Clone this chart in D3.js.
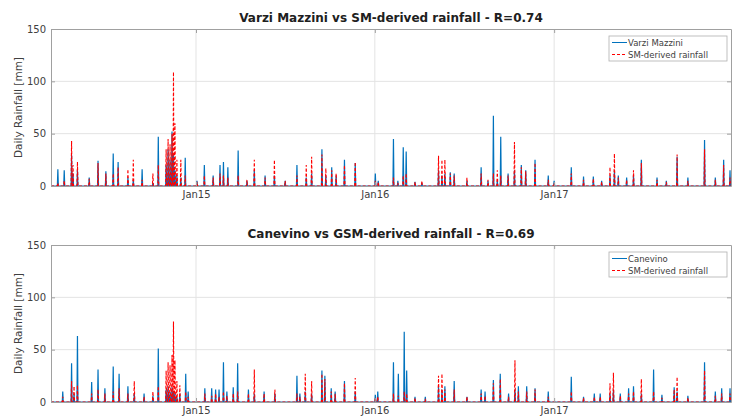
<!DOCTYPE html>
<html lang="en">
<head>
    <meta charset="utf-8">
    <title>Rainfall comparison</title>
    <style>
        body { margin: 0; background: #fff; }
        svg { display: block; font-family: "DejaVu Sans", sans-serif; }
    </style>
</head>
<body>
    <div id="container"></div>

    <script src="https://cdn.jsdelivr.net/npm/d3@7"></script>
    <script>
        // Time span of the record and axis ticks
        const startDate = "2014-03-11";
        const endDate = "2017-12-28";
        const xTickDates = ["2015-01-01", "2016-01-01", "2017-01-01"];
        const xTickLabels = ["Jan15", "Jan16", "Jan17"];
        const yTicks = [0, 50, 100, 150];

        // Rain days (all other days are 0 mm)
        const topDates = [
            "2014-03-25", "2014-04-07", "2014-04-22", "2014-04-25", "2014-05-04", "2014-05-28",
            "2014-06-15", "2014-07-01", "2014-07-16", "2014-07-26", "2014-08-15", "2014-08-26",
            "2014-09-13", "2014-10-05", "2014-10-16", "2014-11-01", "2014-11-05", "2014-11-09",
            "2014-11-13", "2014-11-16", "2014-11-19", "2014-11-23", "2014-12-01", "2014-12-10",
            "2015-01-03", "2015-01-18", "2015-02-05", "2015-02-19", "2015-02-26", "2015-03-07",
            "2015-03-28", "2015-04-15", "2015-04-30", "2015-05-22", "2015-06-10", "2015-07-02",
            "2015-07-26", "2015-08-14", "2015-08-25", "2015-09-15", "2015-09-23", "2015-10-05",
            "2015-10-14", "2015-10-31", "2015-11-22", "2016-01-02", "2016-01-08", "2016-02-08",
            "2016-02-17", "2016-02-28", "2016-03-05", "2016-03-23", "2016-04-06", "2016-05-10",
            "2016-05-17", "2016-05-23", "2016-06-03", "2016-06-11", "2016-07-07", "2016-08-05",
            "2016-08-19", "2016-08-30", "2016-09-07", "2016-09-14", "2016-09-29", "2016-10-12",
            "2016-10-26", "2016-11-04", "2016-11-23", "2016-12-20", "2017-01-01", "2017-02-05",
            "2017-03-02", "2017-03-22", "2017-04-08", "2017-04-25", "2017-05-04", "2017-05-12",
            "2017-05-29", "2017-06-12", "2017-06-28", "2017-07-30", "2017-08-18", "2017-09-09",
            "2017-10-01", "2017-11-04", "2017-11-26", "2017-12-13", "2017-12-26"
        ];
        const varziMazzini = [
            16, 15, 30, 12, 15, 8,
            24, 14, 31, 23, 8, 6,
            16, 3, 47, 20, 35, 25,
            52, 30, 15, 10, 8, 27,
            5, 20, 10, 20, 23, 18,
            34, 5, 15, 10, 10, 5,
            20, 8, 12, 35, 10, 18,
            10, 25, 22, 12, 5, 45,
            5, 37, 33, 4, 3, 15,
            10, 12, 13, 12, 5, 18,
            5, 67, 5, 47, 12, 15,
            20, 15, 25, 10, 5, 18,
            9, 9, 5, 10, 15, 10,
            8, 10, 25, 8, 5, 28,
            8, 44, 8, 25, 15
        ];
        const smTop = [
            3, 5, 43, 20, 23, 7,
            22, 12, 12, 18, 16, 25,
            6, 12, 20, 35, 45, 40,
            50, 109, 60, 25, 25, 10,
            4, 10, 8, 12, 10, 8,
            10, 6, 25, 8, 25, 5,
            10, 20, 28, 30, 17, 15,
            12, 20, 23, 5, 4, 8,
            3, 10, 12, 4, 5, 29,
            25, 25, 12, 10, 8, 12,
            6, 12, 15, 10, 10, 42,
            18, 14, 22, 6, 3, 12,
            6, 7, 4, 18, 31, 8,
            6, 15, 22, 6, 4, 30,
            5, 35, 6, 20, 8
        ];

        // Rain days (all other days are 0 mm)
        const bottomDates = [
            "2014-04-04", "2014-04-22", "2014-04-27", "2014-05-04", "2014-06-02", "2014-06-15",
            "2014-06-29", "2014-07-16", "2014-07-28", "2014-08-15", "2014-08-28", "2014-09-17",
            "2014-10-05", "2014-10-16", "2014-11-01", "2014-11-05", "2014-11-09", "2014-11-13",
            "2014-11-16", "2014-11-19", "2014-11-23", "2014-11-29", "2014-12-11", "2014-12-16",
            "2015-01-19", "2015-02-02", "2015-02-10", "2015-02-17", "2015-02-26", "2015-03-05",
            "2015-03-18", "2015-03-27", "2015-04-18", "2015-04-30", "2015-05-20", "2015-06-11",
            "2015-07-26", "2015-08-01", "2015-08-12", "2015-08-25", "2015-09-15", "2015-09-21",
            "2015-10-04", "2015-10-12", "2015-10-31", "2015-11-22", "2016-01-02", "2016-01-07",
            "2016-02-08", "2016-02-18", "2016-03-01", "2016-03-06", "2016-03-23", "2016-04-13",
            "2016-05-10", "2016-05-17", "2016-05-23", "2016-06-11", "2016-07-07", "2016-08-05",
            "2016-08-13", "2016-08-30", "2016-09-13", "2016-09-30", "2016-10-13", "2016-10-20",
            "2016-11-06", "2016-11-23", "2016-12-20", "2017-02-05", "2017-03-02", "2017-03-24",
            "2017-04-05", "2017-04-25", "2017-05-02", "2017-05-16", "2017-06-02", "2017-06-12",
            "2017-06-28", "2017-07-23", "2017-08-09", "2017-09-03", "2017-09-09", "2017-10-01",
            "2017-11-04", "2017-11-26", "2017-12-09", "2017-12-26"
        ];
        const canevino = [
            10, 37, 8, 63, 19, 31,
            13, 34, 27, 15, 8, 8,
            6, 51, 12, 15, 10, 14,
            10, 8, 5, 8, 27, 10,
            13, 13, 12, 12, 38, 10,
            14, 37, 12, 8, 10, 8,
            25, 8, 10, 8, 30, 25,
            13, 10, 20, 10, 7, 10,
            38, 27, 67, 30, 5, 5,
            15, 12, 15, 20, 5, 12,
            10, 21, 27, 8, 12, 15,
            15, 13, 10, 24, 5, 8,
            8, 8, 12, 8, 13, 15,
            8, 31, 7, 14, 10, 6,
            38, 10, 13, 13
        ];
        const gsmBottom = [
            5, 20, 15, 16, 8, 12,
            8, 10, 13, 8, 20, 5,
            10, 15, 30, 38, 35, 45,
            77, 40, 20, 16, 10, 5,
            8, 6, 8, 5, 10, 6,
            8, 10, 8, 31, 8, 12,
            8, 5, 27, 20, 27, 22,
            10, 8, 18, 23, 4, 5,
            8, 6, 10, 8, 4, 3,
            25, 27, 12, 12, 5, 8,
            6, 18, 22, 5, 40, 10,
            10, 12, 5, 10, 4, 5,
            5, 18, 28, 6, 8, 10,
            22, 10, 4, 12, 24, 4,
            30, 6, 8, 8
        ];

        const panels = [
            { title: "Varzi Mazzini vs SM-derived rainfall - R=0.74", dates: topDates,
              gauge: varziMazzini, sat: smTop, gaugeName: "Varzi Mazzini", satName: "SM-derived rainfall" },
            { title: "Canevino vs GSM-derived rainfall - R=0.69", dates: bottomDates,
              gauge: canevino, sat: gsmBottom, gaugeName: "Canevino", satName: "SM-derived rainfall" }
        ];

        const width = 741;
        const height = 419;
        const marginLeft = 51;
        const marginRight = 10;
        const panelTops = [29, 245];
        const panelHeight = 157;
        const blue = "#0072bd";
        const red = "#ff0000";

        const parse = d3.utcParse("%Y-%m-%d");

        const svg = d3.select("#container").append("svg")
            .attr("width", width)
            .attr("height", height);

        const x = d3.scaleUtc()
            .domain([parse(startDate), parse(endDate)])
            .range([marginLeft, width - marginRight]);

        // Turn the list of rain days into a daily series (dry days = 0)
        function dailySeries(dates, values) {
            const byDay = new Map(dates.map((d, i) => [d, values[i]]));
            return d3.utcDay.range(parse(startDate), d3.utcDay.offset(parse(endDate), 1))
                .map(day => ({ date: day, value: byDay.get(d3.utcFormat("%Y-%m-%d")(day)) || 0 }));
        }

        panels.forEach((p, i) => {
            const top = panelTops[i];
            const y = d3.scaleLinear()
                .domain([0, 150])
                .range([top + panelHeight, top]);

            const g = svg.append("g");

            // Grid
            g.selectAll(".vgrid")
                .data(xTickDates)
                .enter().append("line")
                .attr("x1", d => x(parse(d))).attr("x2", d => x(parse(d)))
                .attr("y1", top).attr("y2", top + panelHeight)
                .attr("stroke", "#e3e3e3").attr("stroke-width", 1);
            g.selectAll(".hgrid")
                .data(yTicks.slice(1, -1))
                .enter().append("line")
                .attr("x1", marginLeft).attr("x2", width - marginRight)
                .attr("y1", d => y(d)).attr("y2", d => y(d))
                .attr("stroke", "#e3e3e3").attr("stroke-width", 1);

            const line = d3.line()
                .x(d => x(d.date))
                .y(d => y(d.value));

            g.append("path")
                .datum(dailySeries(p.dates, p.gauge))
                .attr("fill", "none")
                .attr("stroke", blue)
                .attr("stroke-width", 1.2)
                .attr("d", line);

            g.append("path")
                .datum(dailySeries(p.dates, p.sat))
                .attr("fill", "none")
                .attr("stroke", red)
                .attr("stroke-width", 1.1)
                .attr("stroke-dasharray", "3,2")
                .attr("d", line);

            // Axes (ticks point inward, box around the plot)
            const xAxis = d3.axisBottom(x)
                .tickValues(xTickDates.map(parse))
                .tickFormat((d, j) => xTickLabels[j])
                .tickSizeInner(-4).tickSizeOuter(0).tickPadding(5);
            g.append("g")
                .attr("transform", `translate(0,${top + panelHeight})`)
                .call(xAxis);

            const yAxis = d3.axisLeft(y)
                .tickValues(yTicks)
                .tickSizeInner(-4).tickSizeOuter(0).tickPadding(5);
            g.append("g")
                .attr("transform", `translate(${marginLeft},0)`)
                .call(yAxis);

            g.append("g")
                .attr("transform", `translate(0,${top})`)
                .call(d3.axisTop(x).tickValues(xTickDates.map(parse)).tickFormat("").tickSizeInner(-4).tickSizeOuter(0));
            g.append("g")
                .attr("transform", `translate(${width - marginRight},0)`)
                .call(d3.axisRight(y).tickValues(yTicks).tickFormat("").tickSizeInner(-4).tickSizeOuter(0));

            g.selectAll(".domain").attr("stroke", "#a0a0a0");
            g.selectAll(".tick line").attr("stroke", "#a0a0a0");
            g.selectAll(".tick text")
                .attr("fill", "#404040")
                .style("font-size", "10px")
                .style("font-family", "'DejaVu Sans', sans-serif");

            // Title
            g.append("text")
                .attr("x", (marginLeft + width - marginRight) / 2)
                .attr("y", top - 7)
                .attr("text-anchor", "middle")
                .style("font-size", "12px")
                .style("font-weight", "bold")
                .attr("fill", "#202020")
                .text(p.title);

            // Y-axis label
            g.append("text")
                .attr("transform", "rotate(-90)")
                .attr("x", -(top + panelHeight / 2))
                .attr("y", 22)
                .attr("text-anchor", "middle")
                .style("font-size", "10.5px")
                .attr("fill", "#404040")
                .text("Daily Rainfall [mm]");

            // Legend
            const lx = 609, ly = top + 7, lw = 118, lh = 25;
            const legend = g.append("g");
            legend.append("rect")
                .attr("x", lx).attr("y", ly).attr("width", lw).attr("height", lh)
                .attr("fill", "#fff").attr("stroke", "#b0b0b0").attr("stroke-width", 0.8);
            const items = [
                { name: p.gaugeName, color: blue, dash: null },
                { name: p.satName, color: red, dash: "3,2" }
            ];
            items.forEach((it, k) => {
                const cy = ly + 6.5 + k * 12;
                legend.append("line")
                    .attr("x1", lx + 3).attr("x2", lx + 18)
                    .attr("y1", cy).attr("y2", cy)
                    .attr("stroke", it.color).attr("stroke-width", 1)
                    .attr("stroke-dasharray", it.dash);
                legend.append("text")
                    .attr("x", lx + 19).attr("y", cy + 3)
                    .style("font-size", "8.5px")
                    .attr("fill", "#404040")
                    .text(it.name);
            });
        });
    </script>
</body>
</html>
